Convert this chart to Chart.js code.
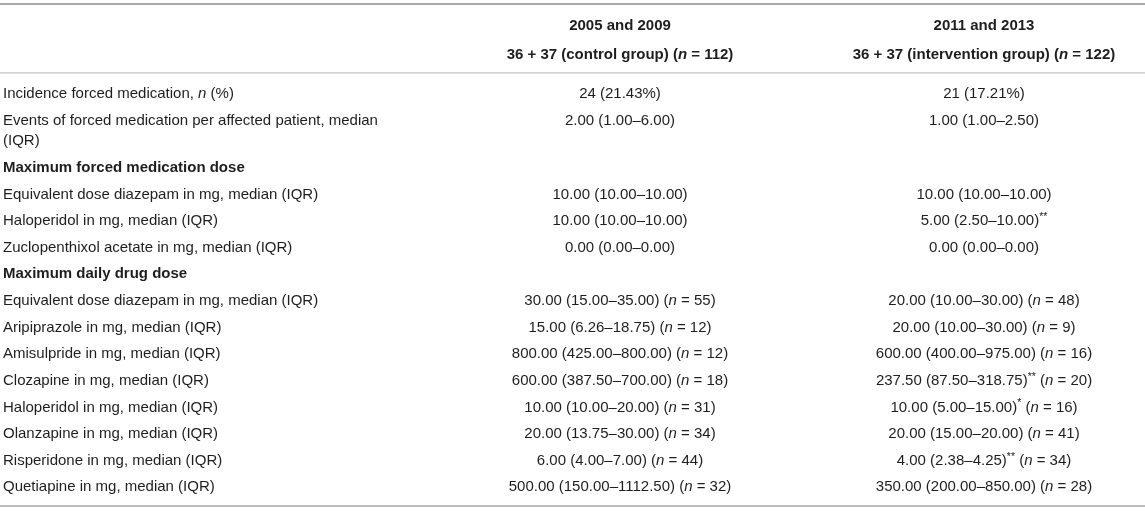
<!DOCTYPE html>
<html lang="en">
  <head>
    <meta charset="UTF-8" />
    <title>Forced medication table</title>
    <script src="https://cdn.jsdelivr.net/npm/chart.js@4.4.0/dist/chart.umd.min.js"></script>
    <style>
      html, body { margin: 0; padding: 0; background: #fff; }
      #wrap { width: 1145px; height: 511px; }
    </style>
  </head>
  <body>
    <div id="wrap"><canvas id="chart"></canvas></div>

    <script>
      // table content
      const headerTop = ['2005 and 2009', '2011 and 2013'];
      const headerBottom = ['36 + 37 (control group) (n = 112)', '36 + 37 (intervention group) (n = 122)'];

      const rowLabels = [
        'Incidence forced medication, n (%)',
        'Events of forced medication per affected patient, median\n(IQR)',
        'Maximum forced medication dose',
        'Equivalent dose diazepam in mg, median (IQR)',
        'Haloperidol in mg, median (IQR)',
        'Zuclopenthixol acetate in mg, median (IQR)',
        'Maximum daily drug dose',
        'Equivalent dose diazepam in mg, median (IQR)',
        'Aripiprazole in mg, median (IQR)',
        'Amisulpride in mg, median (IQR)',
        'Clozapine in mg, median (IQR)',
        'Haloperidol in mg, median (IQR)',
        'Olanzapine in mg, median (IQR)',
        'Risperidone in mg, median (IQR)',
        'Quetiapine in mg, median (IQR)'
      ];

      const sectionRows = ['Maximum forced medication dose', 'Maximum daily drug dose'];

      const controlValues = [
        '24 (21.43%)',
        '2.00 (1.00–6.00)',
        '',
        '10.00 (10.00–10.00)',
        '10.00 (10.00–10.00)',
        '0.00 (0.00–0.00)',
        '',
        '30.00 (15.00–35.00) (n = 55)',
        '15.00 (6.26–18.75) (n = 12)',
        '800.00 (425.00–800.00) (n = 12)',
        '600.00 (387.50–700.00) (n = 18)',
        '10.00 (10.00–20.00) (n = 31)',
        '20.00 (13.75–30.00) (n = 34)',
        '6.00 (4.00–7.00) (n = 44)',
        '500.00 (150.00–1112.50) (n = 32)'
      ];

      const interventionValues = [
        '21 (17.21%)',
        '1.00 (1.00–2.50)',
        '',
        '10.00 (10.00–10.00)',
        '5.00 (2.50–10.00)**',
        '0.00 (0.00–0.00)',
        '',
        '20.00 (10.00–30.00) (n = 48)',
        '20.00 (10.00–30.00) (n = 9)',
        '600.00 (400.00–975.00) (n = 16)',
        '237.50 (87.50–318.75)** (n = 20)',
        '10.00 (5.00–15.00)* (n = 16)',
        '20.00 (15.00–20.00) (n = 41)',
        '4.00 (2.38–4.25)** (n = 34)',
        '350.00 (200.00–850.00) (n = 28)'
      ];

      // layout in row units (one unit = one body row)
      const FONT = '"Liberation Sans", Arial, Helvetica, sans-serif';
      const FONT_SIZE = 15;
      const labelX = 3;
      const columnX = [620, 984];
      const wrapStep = 0.76;
      const bodyPad = 0.3;

      // row centres, counted in row units from the header rule
      const rowCentres = [];
      let pos = bodyPad;
      rowLabels.forEach(label => {
        const lines = label.split('\n').length;
        const h = 1 + wrapStep * (lines - 1);
        rowCentres.push(pos + h / 2);
        pos += h;
      });
      const bodyEnd = pos + 0.2;

      const rules = [
        { y: -2.59, color: '#a8a8a8', width: 2 },
        { y: 0, color: '#c4c4c4', width: 1.2 },
        { y: bodyEnd, color: '#a8a8a8', width: 1.5 }
      ];
      const headerRowsY = [-1.76, -0.68];

      // split text into plain / italic n / superscript asterisk pieces
      function pieces(str) {
        return str.split(/(\*+|\bn\b)/).filter(s => s !== '').map(s => {
          if (/^\*+$/.test(s)) return { text: s, sup: true };
          if (s === 'n') return { text: s, italic: true };
          return { text: s };
        });
      }

      function fontFor(p, bold) {
        const size = p.sup ? FONT_SIZE * 0.7 : FONT_SIZE;
        return (p.italic ? 'italic ' : '') + (bold ? 'bold ' : '') + size + 'px ' + FONT;
      }

      function drawRich(ctx, str, x, y, align, bold) {
        const parts = pieces(str);
        let total = 0;
        parts.forEach(p => {
          ctx.font = fontFor(p, bold);
          p.w = ctx.measureText(p.text).width;
          total += p.w;
        });
        let cx = align === 'center' ? x - total / 2 : x;
        parts.forEach(p => {
          ctx.font = fontFor(p, bold);
          ctx.fillText(p.text, cx, p.sup ? y - 4 : y);
          cx += p.w;
        });
      }

      const tablePlugin = {
        id: 'tableText',
        afterDraw(chart) {
          const ctx = chart.ctx;
          const xs = chart.scales.x;
          const ys = chart.scales.y;
          ctx.save();
          ctx.textBaseline = 'middle';
          ctx.textAlign = 'left';

          rules.forEach(r => {
            ctx.strokeStyle = r.color;
            ctx.lineWidth = r.width;
            ctx.beginPath();
            ctx.moveTo(xs.left, ys.getPixelForValue(r.y));
            ctx.lineTo(xs.right, ys.getPixelForValue(r.y));
            ctx.stroke();
          });

          ctx.fillStyle = '#1e1e1e';
          columnX.forEach((cx, i) => {
            drawRich(ctx, headerTop[i], xs.getPixelForValue(cx), ys.getPixelForValue(headerRowsY[0]), 'center', true);
            drawRich(ctx, headerBottom[i], xs.getPixelForValue(cx), ys.getPixelForValue(headerRowsY[1]), 'center', true);
          });

          rowLabels.forEach((label, i) => {
            const lines = label.split('\n');
            const bold = sectionRows.includes(label);
            const top = rowCentres[i] - wrapStep * (lines.length - 1) / 2;
            lines.forEach((line, k) => {
              drawRich(ctx, line, xs.getPixelForValue(labelX), ys.getPixelForValue(top + k * wrapStep), 'left', bold);
            });
            [controlValues[i], interventionValues[i]].forEach((val, c) => {
              if (!val) return;
              drawRich(ctx, val, xs.getPixelForValue(columnX[c]), ys.getPixelForValue(top), 'center', false);
            });
          });
          ctx.restore();
        }
      };

      const ctx = document.getElementById('chart').getContext('2d');
      new Chart(ctx, {
        type: 'scatter',
        data: {
          datasets: [{
            data: rowCentres.map(y => ({ x: labelX, y })),
            pointRadius: 0
          }]
        },
        options: {
          responsive: true,
          maintainAspectRatio: false,
          animation: false,
          layout: { padding: 0 },
          plugins: { legend: { display: false }, tooltip: { enabled: false } },
          scales: {
            x: { type: 'linear', display: false, min: 0, max: 1145 },
            y: { type: 'linear', display: false, reverse: true, min: -2.74, max: bodyEnd + 0.19 }
          }
        },
        plugins: [tablePlugin]
      });
    </script>
  </body>
</html>
